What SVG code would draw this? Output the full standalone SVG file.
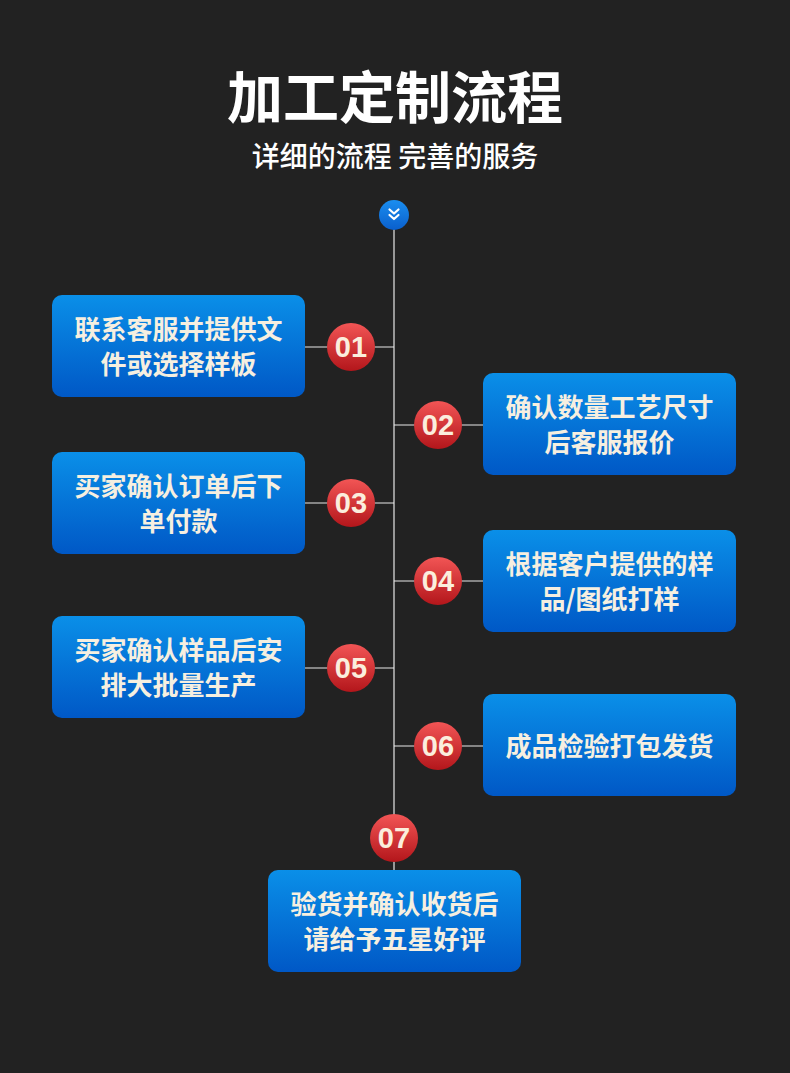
<svg xmlns="http://www.w3.org/2000/svg" width="790" height="1073" viewBox="0 0 790 1073">
<defs>
<linearGradient id="gBox" x1="0" y1="0" x2="0" y2="1">
<stop offset="0" stop-color="#0a8fe8"/>
<stop offset="1" stop-color="#0058c6"/>
</linearGradient>
<linearGradient id="gNum" x1="0" y1="0" x2="0" y2="1">
<stop offset="0" stop-color="#f25555"/>
<stop offset="1" stop-color="#b3161b"/>
</linearGradient>
<linearGradient id="gTop" x1="0" y1="0" x2="0" y2="1">
<stop offset="0" stop-color="#1a8ef0"/>
<stop offset="1" stop-color="#0a5fcc"/>
</linearGradient>
<style>
.box{fill:url(#gBox);}
.bt{font-family:"Noto Sans CJK SC","Noto Sans",sans-serif;font-weight:bold;font-size:26px;fill:#f6efe0;text-anchor:middle;}
.num{fill:url(#gNum);}
.nt{font-family:"Liberation Sans",Arial,sans-serif;font-weight:bold;font-size:29px;fill:#fbeedd;text-anchor:middle;}
.ln{stroke:#e8e8e8;stroke-width:1.2;fill:none;}
</style>
</defs>
<rect width="790" height="1073" fill="#222222"/>
<g id="title">
<text x="395" y="118" font-family="'Noto Sans CJK SC',sans-serif" font-weight="bold" font-size="56" fill="#ffffff" text-anchor="middle">加工定制流程</text>
<text x="395" y="167" font-family="'Noto Sans CJK SC',sans-serif" font-weight="500" font-size="28" fill="#ffffff" text-anchor="middle">详细的流程 完善的服务</text>
</g>
<g id="connectors">
<line class="ln" x1="394" y1="228" x2="394" y2="870"/>
<line class="ln" x1="305" y1="347" x2="394" y2="347"/>
<line class="ln" x1="394" y1="425" x2="483" y2="425"/>
<line class="ln" x1="305" y1="503" x2="394" y2="503"/>
<line class="ln" x1="394" y1="581" x2="483" y2="581"/>
<line class="ln" x1="305" y1="668" x2="394" y2="668"/>
<line class="ln" x1="394" y1="746" x2="483" y2="746"/>
</g>
<g id="top-icon">
<circle cx="394" cy="215" r="15" fill="url(#gTop)"/>
<path d="M389.5 209.5 L394 213.5 L398.5 209.5 M389.5 215 L394 219 L398.5 215" stroke="#ffffff" stroke-width="2.2" fill="none" stroke-linecap="round" stroke-linejoin="round"/>
</g>
<g id="step1">
<rect class="box" x="52" y="295" width="253" height="102" rx="10"/>
<text class="bt" x="178.5" y="339">联系客服并提供文</text>
<text class="bt" x="178.5" y="374">件或选择样板</text>
<circle class="num" cx="351" cy="347" r="24"/>
<text class="nt" x="351" y="357">01</text>
</g>
<g id="step2">
<rect class="box" x="483" y="373" width="253" height="102" rx="10"/>
<text class="bt" x="609.5" y="417">确认数量工艺尺寸</text>
<text class="bt" x="609.5" y="452">后客服报价</text>
<circle class="num" cx="438" cy="425" r="24"/>
<text class="nt" x="438" y="435">02</text>
</g>
<g id="step3">
<rect class="box" x="52" y="452" width="253" height="102" rx="10"/>
<text class="bt" x="178.5" y="496">买家确认订单后下</text>
<text class="bt" x="178.5" y="531">单付款</text>
<circle class="num" cx="351" cy="503" r="24"/>
<text class="nt" x="351" y="513">03</text>
</g>
<g id="step4">
<rect class="box" x="483" y="530" width="253" height="102" rx="10"/>
<text class="bt" x="609.5" y="574">根据客户提供的样</text>
<text class="bt" x="609.5" y="609">品/图纸打样</text>
<circle class="num" cx="438" cy="581" r="24"/>
<text class="nt" x="438" y="591">04</text>
</g>
<g id="step5">
<rect class="box" x="52" y="616" width="253" height="102" rx="10"/>
<text class="bt" x="178.5" y="660">买家确认样品后安</text>
<text class="bt" x="178.5" y="695">排大批量生产</text>
<circle class="num" cx="351" cy="668" r="24"/>
<text class="nt" x="351" y="678">05</text>
</g>
<g id="step6">
<rect class="box" x="483" y="694" width="253" height="102" rx="10"/>
<text class="bt" x="609.5" y="756">成品检验打包发货</text>
<circle class="num" cx="438" cy="746" r="24"/>
<text class="nt" x="438" y="756">06</text>
</g>
<g id="step7">
<rect class="box" x="268" y="870" width="253" height="102" rx="10"/>
<text class="bt" x="394.5" y="914">验货并确认收货后</text>
<text class="bt" x="394.5" y="949">请给予五星好评</text>
<circle class="num" cx="394" cy="838" r="24"/>
<text class="nt" x="394" y="848">07</text>
</g>
</svg>
